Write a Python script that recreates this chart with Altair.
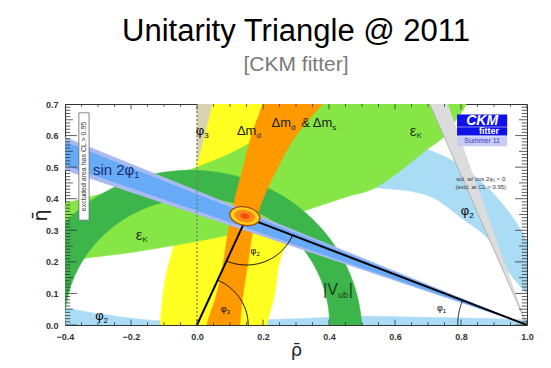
import altair as alt
import pandas as pd
import numpy as np

# ---------------- data (rho-bar, eta-bar) ----------------
x_ticks = [-0.4, -0.2, 0.0, 0.2, 0.4, 0.6, 0.8, 1.0]
y_ticks = [0.0, 0.1, 0.2, 0.3, 0.4, 0.5, 0.6, 0.7]

apex = (0.15, 0.34)

# gamma (phi3) wedge - khaki
gamma_rho = [0.0, 0.0, 0.30]
gamma_eta = [0.0, 0.80, 0.80]

# alpha (phi2) big arc - light blue
alpha_rho = [0.30, 0.50, 0.70, 0.79, 0.885, 0.97, 1.03, 1.03, 0.95, 0.885, 0.80, 0.70, 0.555, 0.45, 0.30]
alpha_eta = [0.55, 0.62, 0.555, 0.51, 0.43, 0.32, 0.19, 0.08, 0.16, 0.27, 0.34, 0.41, 0.434, 0.43, 0.40]
# alpha second solution strip along the axis
alpha2_rho = [-0.45, -0.45, -0.30, -0.15, 0.0, 0.30, 0.50, 0.70, 0.90, 1.03, 1.03]
alpha2_eta = [-0.02, 0.055, 0.036, 0.016, 0.011, 0.020, 0.028, 0.024, 0.020, 0.010, -0.02]

# Delta m_d - yellow
dmd_rho = [-0.112, -0.112, -0.097, -0.076, -0.05, -0.02, 0.009, 0.048, 0.06, 0.65,
           0.60, 0.50, 0.42, 0.34, 0.29, 0.25, 0.236, 0.212, 0.212]
dmd_eta = [-0.05, 0.0, 0.14, 0.23, 0.33, 0.45, 0.54, 0.70, 0.75, 0.75,
           0.70, 0.60, 0.50, 0.40, 0.30, 0.20, 0.10, 0.0, -0.05]

# epsilon_K - light green
epsk_rho = [-0.45, -0.35, -0.20, 0.0, 0.15, 0.32, 0.45, 0.55, 0.69, 0.765, 0.79,
            0.33, 0.30, 0.15, 0.0, -0.11, -0.20, -0.40, -0.45]
epsk_eta = [0.19, 0.21, 0.23, 0.265, 0.30, 0.36, 0.405, 0.44, 0.55, 0.62, 0.75,
            0.75, 0.68, 0.57, 0.50, 0.47, 0.44, 0.385, 0.37]

# |V_ub| band - dark green: outer edge (centre, radius), inner edge (centre, radius)
vub_outer = (-0.02, -0.03, 0.52)
vub_inner = (0.0, 0.0, 0.402)

# Delta m_s & Delta m_d - orange
dms_rho = [0.03, 0.03, 0.06, 0.08, 0.095, 0.115, 0.14, 0.165, 0.20, 0.215,
           0.42, 0.38, 0.30, 0.245, 0.20, 0.17, 0.155, 0.14, 0.13, 0.13]
dms_eta = [-0.05, 0.0, 0.10, 0.20, 0.30, 0.40, 0.50, 0.60, 0.70, 0.75,
           0.75, 0.70, 0.60, 0.50, 0.40, 0.30, 0.20, 0.10, 0.0, -0.05]

# solution with cos 2phi1 < 0 - gray wedge
cos_rho = [1.0, 0.684, 0.743]
cos_eta = [0.0, 0.75, 0.75]

# sin 2phi1 wedges (outer / inner)
s2b_out_rho = [1.0, -0.45, -0.45]
s2b_out_eta = [0.0, 0.616, 0.5075]
s2b_in_rho = [1.0, -0.45, -0.45]
s2b_in_eta = [0.0, 0.600, 0.524]

# global fit ellipses at the apex: (a, b)
fit_axes = [(0.046, 0.029), (0.031, 0.019), (0.013, 0.008)]

# ---------------- helpers ----------------
xs = alt.Scale(domain=[-0.4, 1.0], nice=False, zero=False)
ys = alt.Scale(domain=[0.0, 0.7], nice=False, zero=False)
FONT = "Liberation Sans"
TFONT = "DejaVu Sans"
xaxis = alt.Axis(values=x_ticks, format=".1f", ticks=False, domain=False, grid=False,
                 labelFont=FONT, labelFontSize=9, labelFontWeight="bold", labelColor="#333",
                 labelPadding=7, labelFlush=False, title="ρ̄", titleFont=TFONT, titleFontSize=18,
                 titleFontWeight="normal", titleColor="#222", titleX=231, titleY=25,
                 titleBaseline="middle", titleAlign="center")
yaxis = alt.Axis(values=y_ticks, format=".1f", ticks=False, domain=False, grid=False,
                 labelFont=FONT, labelFontSize=9, labelFontWeight="bold", labelColor="#333",
                 labelPadding=7, labelFlush=False, title="η̄", titleFont=TFONT, titleFontSize=19,
                 titleFontWeight="normal", titleColor="#222", titleX=-25, titleY=111,
                 titleBaseline="middle", titleAlign="center", titleAngle=270)
X = alt.X("rho:Q", scale=xs, axis=xaxis)
Y = alt.Y("eta:Q", scale=ys, axis=yaxis)


def poly(rhos, etas, fill, stroke=None, sw=0.6, interp="linear"):
    df = pd.DataFrame({"rho": list(rhos), "eta": list(etas), "i": list(range(len(rhos)))})
    return alt.Chart(df).mark_line(fill=fill, stroke=stroke or fill, strokeWidth=sw,
                                   interpolate=interp, clip=True).encode(
        x=X, y=Y, order="i:Q")


def path(rhos, etas, color, sw=1.0, dash=None):
    df = pd.DataFrame({"rho": list(rhos), "eta": list(etas), "i": list(range(len(rhos)))})
    kw = dict(color=color, strokeWidth=sw, clip=True)
    if dash:
        kw["strokeDash"] = dash
    return alt.Chart(df).mark_line(**kw).encode(x=X, y=Y, order="i:Q")


def arc(cx, cy, r, a0, a1, n=40):
    t = np.radians(np.linspace(a0, a1, n))
    return cx + r * np.cos(t), cy + r * np.sin(t)


def text(items, size, color="black", align="center", baseline="middle", dy=0,
         style="normal", weight="normal", angle=0, font=FONT):
    df = pd.DataFrame(items, columns=["rho", "eta", "label"])
    kw = dict(font=font, fontSize=size, color=color, align=align, baseline=baseline,
              dy=dy, fontStyle=style, fontWeight=weight, clip=False)
    if angle:
        kw["angle"] = angle
    return alt.Chart(df).mark_text(**kw).encode(x=X, y=Y, text="label:N")


layers = []
layers.append(poly(gamma_rho, gamma_eta, "#D8D3B0"))
layers.append(poly(alpha_rho, alpha_eta, "#AADCF5", interp="cardinal"))
layers.append(poly(alpha2_rho, alpha2_eta, "#AADCF5", interp="cardinal"))
layers.append(poly(dmd_rho, dmd_eta, "#FFFF22", interp="cardinal"))
layers.append(poly(epsk_rho, epsk_eta, "#86E646", interp="cardinal"))

to = np.linspace(-5, 185, 90)
ti = np.linspace(180, 0, 80)
o_r, o_e = arc(vub_outer[0], vub_outer[1], vub_outer[2], -5, 185, 90)
i_r, i_e = arc(vub_inner[0], vub_inner[1], vub_inner[2], 180, 0, 80)
layers.append(poly(np.concatenate([o_r, i_r]), np.concatenate([o_e, i_e]), "#3CB64A"))

layers.append(poly(dms_rho, dms_eta, "#FF9900", interp="cardinal"))
layers.append(poly(cos_rho, cos_eta, "#DCDCDC", stroke="#A8A8A8", sw=0.8))
layers.append(poly(s2b_out_rho, s2b_out_eta, "#A9B9F2"))
layers.append(poly(s2b_in_rho, s2b_in_eta, "#66AAF8"))

# dashed rho = 0 line
layers.append(alt.Chart(pd.DataFrame({"rho": [0.0], "eta": [0.0], "eta2": [0.7]})).mark_rule(
    color="#777", strokeDash=[2, 2], strokeWidth=1.2).encode(x=X, y=Y, y2="eta2:Q"))

# unitarity triangle
layers.append(path([0.0, apex[0], 1.0], [0.0, apex[1], 0.0], "#000", sw=2.0))
# angle arcs
ang_apex_left = np.degrees(np.arctan2(-apex[1], -apex[0])) + 360
ang_apex_right = np.degrees(np.arctan2(-apex[1], 1.0 - apex[0])) + 360
ar, ae = arc(apex[0], apex[1], 0.15, ang_apex_left, ang_apex_right)
layers.append(path(ar, ae, "#111", sw=1.0))
ar, ae = arc(0.0, 0.0, 0.155, 0, np.degrees(np.arctan2(apex[1], apex[0])))
layers.append(path(ar, ae, "#111", sw=1.0))
ar, ae = arc(1.0, 0.0, 0.21, 180 - np.degrees(np.arctan2(apex[1], 1 - apex[0])), 180)
layers.append(path(ar, ae, "#111", sw=1.0))

# global fit contours
fills = [("#FFD21A", "#A84A10", 1.3), ("#FF8A1A", "#FF8A1A", 0.5), ("#FF4A10", "#FF4A10", 0.5)]
tt = np.linspace(0, 2 * np.pi, 60)
rot = np.radians(-12)
for (a, b), (fc, sc, w) in zip(fit_axes, fills):
    er = 0.145 + a * np.cos(tt) * np.cos(rot) - b * np.sin(tt) * np.sin(rot)
    ee = 0.345 + a * np.cos(tt) * np.sin(rot) + b * np.sin(tt) * np.cos(rot)
    layers.append(poly(er, ee, fc, stroke=sc, sw=w, interp="cardinal"))

# ---- inner ticks ----
def tick_layer(rows):
    df = pd.DataFrame(rows, columns=["rho", "eta", "rho2", "eta2"])
    return alt.Chart(df).mark_rule(color="#333", strokeWidth=0.8, clip=True).encode(
        x=X, y=Y, x2="rho2:Q", y2="eta2:Q")

rows = []
for k in range(29):
    v = round(-0.4 + 0.05 * k, 3)
    major = abs(v * 5 - round(v * 5)) < 1e-6
    L = 0.017 if major else 0.009
    rows.append((v, 0.0, v, L))
    rows.append((v, 0.7, v, 0.7 - L))
for k in range(71):
    v = round(0.01 * k, 3)
    if k % 10 == 0:
        L = 0.036
    elif k % 5 == 0:
        L = 0.024
    else:
        L = 0.016
    rows.append((-0.4, v, -0.4 + L, v))
    rows.append((1.0, v, 1.0 - L, v))
layers.append(tick_layer(rows))

# ---- labels ----
layers.append(text([(-0.19, 0.49, "sin 2φ")], 15, color="#1B2A6B", align="right"))
layers.append(text([(-0.19, 0.49, "1")], 9, color="#1B2A6B", align="left", dy=5))

layers.append(text([(-0.165, 0.285, "ε"), (0.665, 0.615, "ε")], 15, color="#1E3A1E", align="right"))
layers.append(text([(-0.165, 0.285, "K"), (0.665, 0.615, "K")], 8, color="#1E3A1E", align="left", dy=5))

layers.append(text([(-0.283, 0.03, "φ"), (0.825, 0.36, "φ"), (0.022, 0.615, "φ")], 13, align="right"))
layers.append(text([(-0.283, 0.03, "2"), (0.825, 0.36, "2"), (0.022, 0.615, "3")], 8, align="left", dy=5))

layers.append(text([(0.18, 0.235, "φ"), (0.09, 0.05, "φ"), (0.745, 0.055, "φ")], 9, align="right"))
layers.append(text([(0.18, 0.235, "2"), (0.09, 0.05, "3"), (0.745, 0.055, "1")], 6, align="left", dy=3))

layers.append(text([(0.18, 0.615, "Δm"), (0.285, 0.64, "Δm"), (0.41, 0.64, "& Δm")], 13,
                   color="#222", align="right"))
layers.append(text([(0.18, 0.615, "d"), (0.285, 0.64, "d"), (0.41, 0.64, "s")], 8,
                   color="#222", align="left", dy=5))

layers.append(text([(0.427, 0.11, "|V")], 16, color="#1E3A1E", align="right"))
layers.append(text([(0.427, 0.11, "ub")], 9, color="#1E3A1E", align="left", dy=5))
layers.append(text([(0.46, 0.11, "|")], 16, color="#1E3A1E", align="left"))

# excluded area box
box = pd.DataFrame({"rho": [-0.358], "rho2": [-0.327], "eta": [0.332], "eta2": [0.672]})
layers.append(alt.Chart(box).mark_rect(fill="white", stroke="#666", strokeWidth=0.8).encode(
    x=X, x2="rho2:Q", y=Y, y2="eta2:Q"))
layers.append(text([(-0.3425, 0.502, "excluded area has CL > 0.95")], 7, color="#333", angle=270))

# cos 2phi1 note
layers.append(text([(0.86, 0.463, "sol. w/ cos 2φ₁ < 0"), (0.86, 0.437, "(excl. at CL > 0.95)")],
                   6, color="#333"))

# CKM fitter logo
logo = pd.DataFrame({"rho": [0.788, 0.788, 0.788], "rho2": [0.94, 0.94, 0.94],
                     "eta": [0.628, 0.600, 0.566], "eta2": [0.667, 0.626, 0.598],
                     "c": ["#1010E8", "#1010E8", "#C8CCF4"]})
layers.append(alt.Chart(logo).mark_rect().encode(x=X, x2="rho2:Q", y=Y, y2="eta2:Q",
                                                 color=alt.Color("c:N", scale=None)))
layers.append(text([(0.864, 0.647, "CKM")], 14, color="white", style="italic", weight="bold"))
layers.append(text([(0.885, 0.613, "fitter")], 9, color="white", weight="bold"))
layers.append(text([(0.864, 0.582, "Summer 11")], 7, color="#3040C8"))

chart = alt.layer(*layers).properties(
    width=462, height=221,
    autosize=alt.AutoSizeParams(type="none"),
    padding={"left": 57, "top": 96, "right": 16, "bottom": 35},
    title=alt.TitleParams("Unitarity Triangle @ 2011", subtitle="[CKM fitter]",
                          font=FONT, fontSize=31, fontWeight="normal", color="#000",
                          subtitleFont=FONT, subtitleFontSize=21, subtitleColor="#7A7A7A",
                          subtitlePadding=6, anchor="middle", offset=24),
).configure_view(stroke="#333", strokeWidth=1)

chart.save("out.html", embed_options={"renderer": "svg", "actions": False})
